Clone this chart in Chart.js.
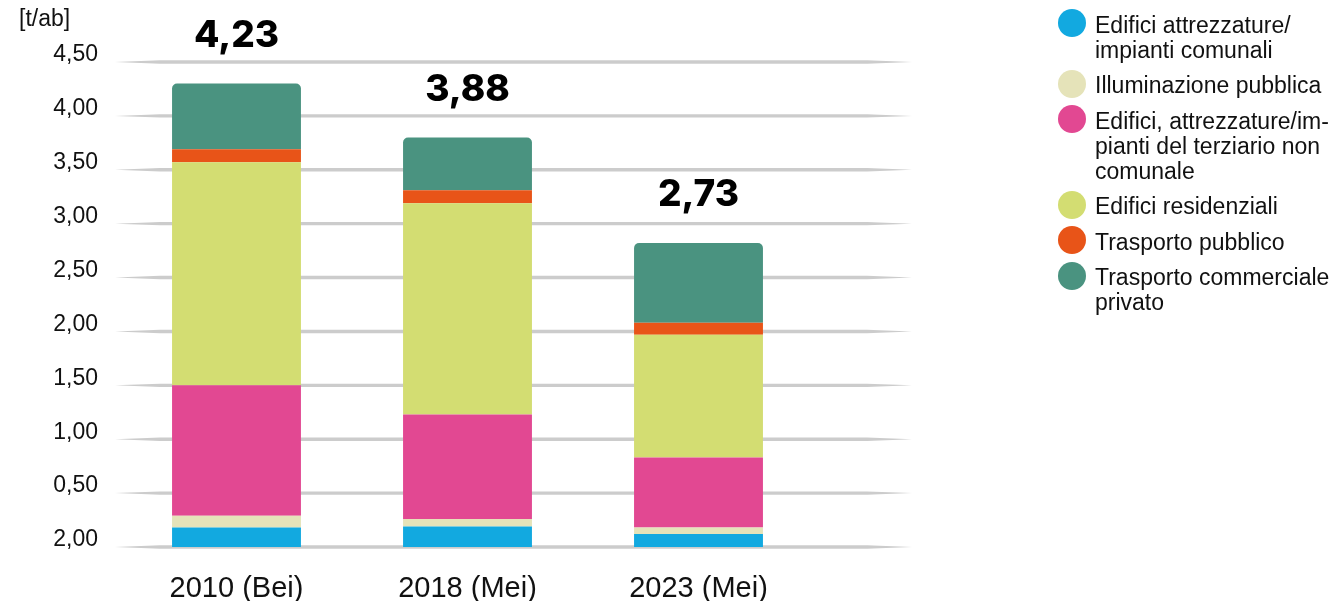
<!DOCTYPE html>
<html>
<head>
<meta charset="utf-8">
<script src="https://cdn.jsdelivr.net/npm/chart.js@4.4.1/dist/chart.umd.min.js"></script>
<style>
  html, body { margin: 0; padding: 0; background: #ffffff; }
  #wrap { position: relative; width: 1343px; height: 601px; overflow: hidden; }
  #c { position: absolute; left: 0; top: 0; }
  #legend { position: absolute; left: 1058px; top: 12.5px; font-family: "Liberation Sans", Arial, sans-serif; font-size: 23px; line-height: 25px; color: #111; }
  .item { position: relative; padding-left: 37px; margin-bottom: 10.5px; white-space: nowrap; }
  .dot { position: absolute; left: 0; top: -3.5px; width: 28px; height: 28px; border-radius: 50%; }
</style>
</head>
<body>
<div id="wrap">
  <canvas id="c" width="1343" height="601"></canvas>
  <div id="legend"></div>
</div>
<script>
const categories = ['2010 (Bei)', '2018 (Mei)', '2023 (Mei)'];
const seriesNames = [
  ['Edifici attrezzature/', 'impianti comunali'],
  ['Illuminazione pubblica'],
  ['Edifici, attrezzature/im-', 'pianti del terziario non', 'comunale'],
  ['Edifici residenziali'],
  ['Trasporto pubblico'],
  ['Trasporto commerciale', 'privato']
];
const comunali      = [0.18, 0.19, 0.12];
const illuminazione = [0.11, 0.07, 0.06];
const terziario     = [1.21, 0.97, 0.65];
const residenziali  = [2.07, 1.96, 1.14];
const pubblico      = [0.12, 0.12, 0.11];
const commerciale   = [0.61, 0.49, 0.74];
const totalLabels   = ['4,23', '3,88', '2,73'];
const yTickLabels   = ['2,00', '0,50', '1,00', '1,50', '2,00', '2,50', '3,00', '3,50', '4,00', '4,50'];
const unitLabel     = '[t/ab]';

const colors = ['#12a9e0', '#e5e3b9', '#e24892', '#d3dd72', '#e85418', '#4a9380'];
const radii = [5, 0, 4, 0, 0, {topLeft: 5, topRight: 5, bottomLeft: 0, bottomRight: 0}];
const seriesValues = [comunali, illuminazione, terziario, residenziali, pubblico, commerciale];

const FONT = '"Liberation Sans", Arial, sans-serif';

const gridPlugin = {
  id: 'taperGrid',
  beforeDatasetsDraw(chart) {
    const ctx = chart.ctx;
    const ys = chart.scales.y;
    const x0 = 115, x1 = 912, t = 1.7, taper = 45;
    ctx.save();
    ctx.fillStyle = '#cccccc';
    ys.ticks.forEach(tk => {
      const y = ys.getPixelForValue(tk.value);
      ctx.beginPath();
      ctx.moveTo(x0, y);
      ctx.lineTo(x0 + taper, y - t);
      ctx.lineTo(x1 - taper, y - t);
      ctx.lineTo(x1, y);
      ctx.lineTo(x1 - taper, y + t);
      ctx.lineTo(x0 + taper, y + t);
      ctx.closePath();
      ctx.fill();
    });
    ctx.restore();
  },
  afterDatasetsDraw(chart) {
    const ctx = chart.ctx;
    const meta = chart.getDatasetMeta(chart.data.datasets.length - 1);
    ctx.save();
    ctx.fillStyle = '#000000';
    ctx.textAlign = 'center';
    ctx.textBaseline = 'middle';
    ctx.font = '800 37px Inter, "Liberation Sans", Arial, sans-serif';
    meta.data.forEach((bar, i) => {
      ctx.fillText(totalLabels[i], bar.x, bar.y - 48);
    });
    ctx.font = '23px ' + FONT;
    ctx.fillStyle = '#111111';
    ctx.textAlign = 'left';
    ctx.fillText(unitLabel, 19, 20);
    ctx.restore();
  }
};

const chart = new Chart(document.getElementById('c'), {
  type: 'bar',
  data: {
    labels: categories,
    datasets: seriesValues.map((vals, i) => ({
      label: seriesNames[i].join(' '),
      data: vals,
      backgroundColor: colors[i],
      borderWidth: 0,
      borderRadius: radii[i],
      borderSkipped: false,
      categoryPercentage: 1,
      barPercentage: 0.558
    }))
  },
  options: {
    responsive: false,
    animation: false,
    layout: { padding: { top: 62, right: 529, left: 0, bottom: 0 } },
    plugins: { legend: { display: false }, tooltip: { enabled: false } },
    scales: {
      x: {
        stacked: true,
        grid: { display: false },
        border: { display: false },
        ticks: { font: { family: FONT, size: 29 }, color: '#111111', padding: 17 },
        afterFit(scale) { scale.height = 54; }
      },
      y: {
        stacked: true,
        min: 0,
        max: 4.5,
        grid: { display: false, drawTicks: false },
        border: { display: false },
        ticks: {
          stepSize: 0.5,
          padding: 23,
          labelOffset: -7,
          color: '#111111',
          font: { family: FONT, size: 23 },
          callback: (v) => yTickLabels[Math.round(v / 0.5)]
        },
        afterFit(scale) { scale.width = 121; }
      }
    }
  },
  plugins: [gridPlugin]
});

const legend = document.getElementById('legend');
chart.data.datasets.forEach((ds, i) => {
  const item = document.createElement('div');
  item.className = 'item';
  const dot = document.createElement('span');
  dot.className = 'dot';
  dot.style.background = ds.backgroundColor;
  item.appendChild(dot);
  seriesNames[i].forEach((line, j) => {
    if (j > 0) item.appendChild(document.createElement('br'));
    item.appendChild(document.createTextNode(line));
  });
  legend.appendChild(item);
});
</script>
</body>
</html>
